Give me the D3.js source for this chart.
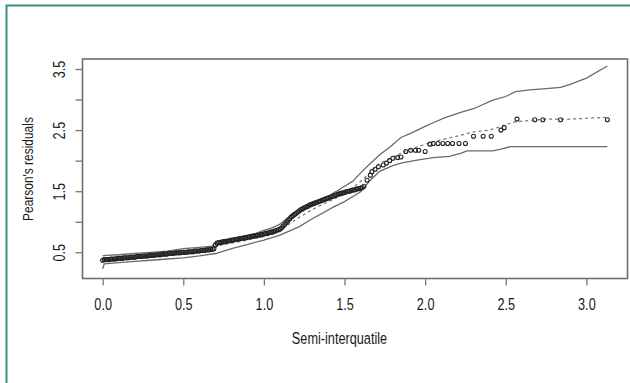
<!DOCTYPE html>
<html>
<head>
<meta charset="utf-8">
<script src="https://cdn.jsdelivr.net/npm/d3@7"></script>
<style>
  html, body { margin: 0; padding: 0; background: #fff; }
  svg { display: block; }
  text { font-family: "Liberation Sans", Arial, sans-serif; fill: #1a1a1a; }
</style>
</head>
<body>
<div id="chart"></div>
<script>
// ---- data ----
const xTicks = [0.0, 0.5, 1.0, 1.5, 2.0, 2.5, 3.0];
const xTickLabels = ["0.0", "0.5", "1.0", "1.5", "2.0", "2.5", "3.0"];
const yTicks = [0.5, 1.0, 1.5, 2.0, 2.5, 3.0, 3.5];
const yTickLabels = ["0.5", "", "1.5", "", "2.5", "", "3.5"];
const xTitle = "Semi-interquatile";
const yTitle = "Pearson's residuals";

// upper envelope
const upperX = [0.00, 0.02, 0.10, 0.20, 0.30, 0.40, 0.50, 0.60, 0.68, 0.70, 0.75, 0.85, 0.95, 1.00, 1.05, 1.10, 1.15, 1.20, 1.25, 1.30, 1.35, 1.40, 1.45, 1.50, 1.55, 1.60, 1.65, 1.72, 1.78, 1.85, 1.92, 2.00, 2.05, 2.12, 2.22, 2.30, 2.42, 2.50, 2.56, 2.65, 2.75, 2.84, 2.90, 3.00, 3.13];
const upperY = [0.44, 0.45, 0.46, 0.48, 0.50, 0.52, 0.56, 0.58, 0.60, 0.67, 0.69, 0.74, 0.81, 0.86, 0.90, 0.96, 1.07, 1.16, 1.23, 1.30, 1.36, 1.42, 1.50, 1.58, 1.66, 1.80, 1.93, 2.10, 2.22, 2.38, 2.46, 2.56, 2.62, 2.70, 2.79, 2.85, 2.99, 3.05, 3.13, 3.16, 3.18, 3.20, 3.25, 3.35, 3.55];

// lower envelope
const lowerX = [0.00, 0.01, 0.10, 0.20, 0.30, 0.40, 0.50, 0.60, 0.70, 0.80, 0.90, 1.00, 1.10, 1.22, 1.30, 1.43, 1.50, 1.60, 1.66, 1.72, 1.80, 1.85, 1.95, 2.05, 2.15, 2.22, 2.26, 2.42, 2.47, 2.53, 3.13];
const lowerY = [0.23, 0.31, 0.33, 0.35, 0.37, 0.39, 0.41, 0.44, 0.48, 0.56, 0.63, 0.70, 0.78, 0.92, 1.05, 1.24, 1.33, 1.49, 1.68, 1.83, 1.92, 1.96, 2.01, 2.05, 2.07, 2.12, 2.16, 2.16, 2.19, 2.23, 2.23];

// median (dashed)
const medX = [0.00, 0.10, 0.30, 0.50, 0.68, 0.70, 0.90, 1.05, 1.10, 1.20, 1.30, 1.40, 1.50, 1.60, 1.72, 1.80, 1.89, 2.05, 2.15, 2.30, 2.40, 2.47, 2.55, 2.65, 2.76, 2.90, 3.13];
const medY = [0.37, 0.39, 0.43, 0.48, 0.52, 0.60, 0.70, 0.79, 0.86, 1.04, 1.20, 1.33, 1.45, 1.66, 1.96, 2.06, 2.17, 2.31, 2.37, 2.47, 2.50, 2.56, 2.63, 2.66, 2.68, 2.68, 2.71];

// observed residuals (points)
const ptX = [
  0.00, 0.01, 0.02, 0.03, 0.04, 0.05, 0.06, 0.07, 0.08, 0.09,
  0.10, 0.11, 0.12, 0.13, 0.14, 0.15, 0.16, 0.17, 0.18, 0.19,
  0.20, 0.21, 0.22, 0.23, 0.24, 0.25, 0.26, 0.27, 0.28, 0.29,
  0.30, 0.31, 0.32, 0.33, 0.34, 0.35, 0.36, 0.37, 0.38, 0.39,
  0.40, 0.41, 0.42, 0.43, 0.44, 0.45, 0.46, 0.47, 0.48, 0.49,
  0.50, 0.51, 0.52, 0.53, 0.54, 0.55, 0.56, 0.57, 0.58, 0.59,
  0.60, 0.61, 0.62, 0.63, 0.64, 0.65, 0.66, 0.67, 0.68, 0.69,
  0.70, 0.71, 0.72, 0.73, 0.74, 0.75, 0.76, 0.77, 0.78, 0.79,
  0.80, 0.81, 0.82, 0.83, 0.84, 0.85, 0.86, 0.87, 0.88, 0.89,
  0.90, 0.91, 0.92, 0.93, 0.94, 0.95, 0.96, 0.97, 0.98, 0.99,
  1.00, 1.01, 1.02, 1.03, 1.04, 1.05, 1.06, 1.07, 1.08, 1.09,
  1.10, 1.11, 1.12, 1.13, 1.14, 1.15, 1.16, 1.17, 1.18, 1.19,
  1.20, 1.21, 1.22, 1.23, 1.24, 1.25, 1.26, 1.27, 1.28, 1.29,
  1.30, 1.31, 1.32, 1.33, 1.34, 1.35, 1.36, 1.37, 1.38, 1.39,
  1.40, 1.41, 1.42, 1.43, 1.44, 1.45, 1.46, 1.47, 1.48, 1.49,
  1.50, 1.51, 1.52, 1.53, 1.54, 1.55, 1.56, 1.57, 1.58, 1.59,
  1.60, 1.61, 1.62,
  1.64, 1.66, 1.67, 1.69, 1.71, 1.74, 1.76, 1.78, 1.80, 1.83,
  1.85, 1.88, 1.91, 1.94, 1.96, 2.00, 2.03, 2.05, 2.08, 2.11,
  2.14, 2.17, 2.21, 2.25, 2.30, 2.36, 2.41, 2.47, 2.49, 2.57,
  2.68, 2.73, 2.84, 3.13
];
const ptY = [
  0.37, 0.38, 0.38, 0.38, 0.38, 0.39, 0.39, 0.39, 0.39, 0.40,
  0.40, 0.40, 0.40, 0.41, 0.41, 0.41, 0.41, 0.42, 0.42, 0.42,
  0.42, 0.43, 0.43, 0.43, 0.43, 0.44, 0.44, 0.44, 0.44, 0.45,
  0.45, 0.45, 0.45, 0.46, 0.46, 0.46, 0.46, 0.47, 0.47, 0.47,
  0.47, 0.48, 0.48, 0.48, 0.48, 0.49, 0.49, 0.49, 0.49, 0.50,
  0.50, 0.50, 0.50, 0.51, 0.51, 0.51, 0.51, 0.52, 0.52, 0.52,
  0.52, 0.53, 0.53, 0.53, 0.54, 0.54, 0.54, 0.55, 0.55, 0.56,
  0.62, 0.65, 0.66, 0.66, 0.67, 0.67, 0.68, 0.68, 0.69, 0.69,
  0.70, 0.70, 0.71, 0.71, 0.72, 0.72, 0.73, 0.73, 0.74, 0.74,
  0.75, 0.75, 0.76, 0.76, 0.77, 0.77, 0.78, 0.78, 0.79, 0.79,
  0.80, 0.81, 0.81, 0.82, 0.83, 0.83, 0.84, 0.85, 0.86, 0.87,
  0.88, 0.90, 0.93, 0.96, 0.99, 1.02, 1.05, 1.08, 1.10, 1.12,
  1.14, 1.16, 1.18, 1.20, 1.21, 1.23, 1.24, 1.25, 1.27, 1.28,
  1.29, 1.30, 1.31, 1.32, 1.33, 1.34, 1.35, 1.36, 1.37, 1.38,
  1.39, 1.40, 1.41, 1.42, 1.43, 1.44, 1.45, 1.46, 1.47, 1.47,
  1.48, 1.49, 1.50, 1.50, 1.51, 1.52, 1.52, 1.53, 1.54, 1.54,
  1.55, 1.56, 1.58,
  1.68, 1.76, 1.82, 1.86, 1.90, 1.93, 1.96, 2.00, 2.04, 2.05,
  2.06, 2.15, 2.17, 2.17, 2.17, 2.15, 2.27, 2.28, 2.28, 2.28,
  2.28, 2.28, 2.28, 2.28, 2.40, 2.40, 2.40, 2.50, 2.54, 2.68,
  2.67, 2.67, 2.67, 2.67
];

// ---- drawing ----
const W = 630, H = 383;
const svg = d3.select("#chart").append("svg").attr("width", W).attr("height", H);
const NARROW = 0.77;

// outer teal frame
svg.append("rect")
  .attr("x", 6.5).attr("y", 5.5).attr("width", 700).attr("height", 500)
  .attr("fill", "none").attr("stroke", "#3b8f84").attr("stroke-width", 2);

const box = { left: 82.5, right: 627.5, top: 59, bottom: 278.5 };
const x = d3.scaleLinear().domain([-0.125, 3.255]).range([box.left, box.right]);
const y = d3.scaleLinear().domain([0.071, 3.664]).range([box.bottom, box.top]);

const zip = (a, b) => a.map((v, i) => [v, b[i]]);
const line = d3.line().x(d => x(d[0])).y(d => y(d[1]));

// envelopes
svg.append("path").datum(zip(upperX, upperY)).attr("d", line)
  .attr("fill", "none").attr("stroke", "#6a6a6a").attr("stroke-width", 1.3);
svg.append("path").datum(zip(lowerX, lowerY)).attr("d", line)
  .attr("fill", "none").attr("stroke", "#6a6a6a").attr("stroke-width", 1.3);
// median dashed
svg.append("path").datum(zip(medX, medY)).attr("d", line)
  .attr("fill", "none").attr("stroke", "#777").attr("stroke-width", 1.2)
  .attr("stroke-dasharray", "3,3");

// points
svg.append("g").selectAll("circle").data(zip(ptX, ptY)).join("circle")
  .attr("cx", d => x(d[0])).attr("cy", d => y(d[1])).attr("r", 2)
  .attr("fill", "none").attr("stroke", "#222").attr("stroke-width", 1.1);

// plot box
svg.append("rect")
  .attr("x", box.left).attr("y", box.top)
  .attr("width", box.right - box.left).attr("height", box.bottom - box.top)
  .attr("fill", "none").attr("stroke", "#6e6e6e").attr("stroke-width", 1.6);

// x axis
const xAxis = d3.axisBottom(x).tickValues(xTicks).tickSize(7).tickPadding(0)
  .tickFormat((d, i) => xTickLabels[i]);
const gx = svg.append("g").attr("transform", `translate(0,${box.bottom})`).call(xAxis);
gx.select(".domain").remove();
gx.selectAll(".tick line").attr("stroke", "#777").attr("stroke-width", 1.3);
gx.selectAll(".tick text")
  .attr("font-size", 16.5).attr("fill", "#1a1a1a")
  .attr("y", null).attr("dy", null)
  .attr("transform", `translate(0,31.5) scale(${NARROW},1)`);

// y axis
const yAxis = d3.axisLeft(y).tickValues(yTicks).tickSize(7).tickPadding(0)
  .tickFormat((d, i) => yTickLabels[i]);
const gy = svg.append("g").attr("transform", `translate(${box.left},0)`).call(yAxis);
gy.select(".domain").remove();
gy.selectAll(".tick line").attr("stroke", "#777").attr("stroke-width", 1.3);
gy.selectAll(".tick text")
  .attr("font-size", 16.5).attr("fill", "#1a1a1a")
  .attr("x", null).attr("dy", null)
  .attr("text-anchor", "middle")
  .attr("transform", `translate(-17.5,0) rotate(-90) scale(${NARROW},1)`);

// titles
svg.append("text")
  .attr("transform", `translate(339.5,344) scale(${NARROW},1)`)
  .attr("text-anchor", "middle").attr("font-size", 16.5).text(xTitle);
svg.append("text")
  .attr("transform", `translate(32.5,169) rotate(-90) scale(${NARROW},1)`)
  .attr("text-anchor", "middle").attr("font-size", 15.5).text(yTitle);
</script>
</body>
</html>
